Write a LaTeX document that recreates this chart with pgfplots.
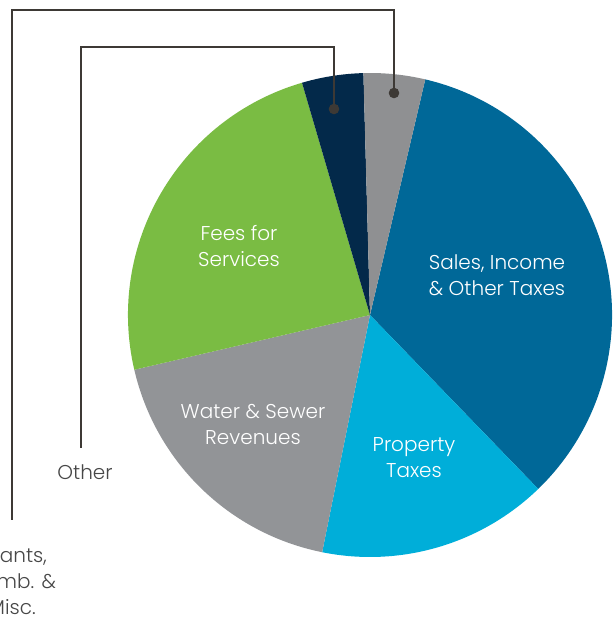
\documentclass[border=0pt]{standalone}
\usepackage{pgfplots}
\pgfplotsset{compat=1.18}
\usepackage{fontspec}
\IfFontExistsTF{Poppins Light}{\setmainfont{Poppins Light}}{\setmainfont{Poppins}}

\definecolor{cSales}{HTML}{006898}
\definecolor{cProp}{HTML}{00AED9}
\definecolor{cWater}{HTML}{929497}
\definecolor{cFees}{HTML}{7ABC43}
\definecolor{cOther}{HTML}{03294A}
\definecolor{cGrants}{HTML}{8F9092}
\definecolor{cLine}{HTML}{3D3935}
\definecolor{cText}{HTML}{474747}

\begin{document}
\begin{tikzpicture}
\useasboundingbox (0,0) rectangle (615pt,620pt);
\clip (0,0) rectangle (615pt,620pt);
\begin{axis}[
    x=1pt, y=1pt,
    xmin=0, xmax=615, ymin=0, ymax=620,
    scale only axis, hide axis, clip=false
]
% shares in percent, clockwise from the top
\xdef\sa{76.8}
\foreach \v/\c in {34.1/cSales, 15.4/cProp, 18.2/cWater, 24.1/cFees, 4.1/cOther, 4.1/cGrants}{
    \pgfmathsetmacro\ea{\sa-3.6*\v}
    \edef\temp{\noexpand\fill[\c] (axis cs:370,305) -- ++(\sa:242pt)
        arc[start angle=\sa, end angle=\ea, radius=242pt] -- cycle;}
    \temp
    \xdef\sa{\ea}
}

% leader lines
\draw[cLine, line width=2.2pt] (axis cs:394,527) -- (axis cs:394,610) -- (axis cs:12,610) -- (axis cs:12,100);
\draw[cLine, line width=2.2pt] (axis cs:334,511) -- (axis cs:334,573) -- (axis cs:81,573) -- (axis cs:81,172);
\fill[cLine] (axis cs:394,527) circle[radius=5.3pt];
\fill[cLine] (axis cs:334,511) circle[radius=5.3pt];

\begin{scope}[every node/.style={align=center, font=\fontsize{20}{26}\selectfont}]
\node[white] at (axis cs:239,374) {Fees for\\Services};
\node[white] at (axis cs:497,345) {Sales, Income\\\& Other Taxes};
\node[white] at (axis cs:253,196) {Water \& Sewer\\Revenues};
\node[white] at (axis cs:414,162) {Property\\Taxes};
\node[cText] at (axis cs:85,148) {Other};
\node[cText] at (axis cs:12,38) {Grants,\\Reimb. \&\\Misc.};
\end{scope}
\end{axis}
\end{tikzpicture}
\end{document}
